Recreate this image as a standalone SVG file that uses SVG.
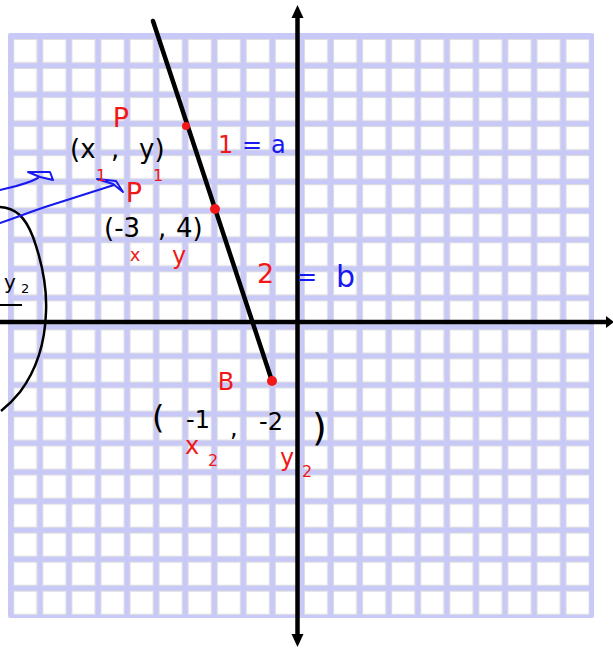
<svg xmlns="http://www.w3.org/2000/svg" width="613" height="648" viewBox="0 0 613 648">
<style>
.t{font-family:"DejaVu Sans","Liberation Sans",sans-serif;}
.k{fill:#000;}
.r{fill:#f01818;}
.b{fill:#1818f0;}
.ax{stroke:#000;stroke-width:4.5;fill:none;}
.blue{stroke:#1818f0;stroke-width:2;fill:none;stroke-linecap:round;stroke-linejoin:round;}
.dot{fill:#f01818;}
</style>
<defs>
<pattern id="cells" patternUnits="userSpaceOnUse" x="13.3" y="39" width="29.07" height="29.04">
<rect x="0.5" y="0.5" width="23" height="23" fill="#fff" stroke="#dedede" stroke-width="1"/>
</pattern>
</defs>
<g id="grid">
<rect x="8" y="33" width="586" height="585" rx="2" fill="#c9c9f7"/>
<rect x="13.3" y="39" width="576" height="576" fill="url(#cells)"/>
</g>
<g id="axes">
<line class="ax" x1="297.5" y1="15" x2="297.5" y2="636"/>
<polygon points="297.5,5 291.5,18 303.5,18" fill="#000"/>
<polygon points="297.5,647 291.5,634 303.5,634" fill="#000"/>
<line class="ax" x1="0" y1="322" x2="607" y2="322"/>
<polygon points="614,322 606,316 606,328" fill="#000"/>
</g>
<g id="connectors">
<line x1="153" y1="21" x2="272" y2="381" stroke="#000" stroke-width="4.5" stroke-linecap="round"/>
<path d="M0,207 C15,208 25,216 33,237 C42,262 47,290 46,312 C45,345 35,372 20,392 C12,402 6,407 1,411" stroke="#000" stroke-width="2.5" fill="none"/>
<path class="blue" d="M0,190 C12,187 25,185 38,178"/>
<path class="blue" d="M28,172 L50,172 L53,180 L40,177 Z"/>
<path class="blue" d="M0,223 C15,218 30,212 45,207 C70,199 95,191 114,185"/>
<path class="blue" d="M97,179 L116,181 L123,192 L113,184 Z"/>
<line x1="0" y1="305" x2="22" y2="305" stroke="#000" stroke-width="2"/>
</g>
<g id="point-p1">
<circle class="dot" cx="186" cy="126" r="4"/>
<text class="t r" x="121" y="127" font-size="27" text-anchor="middle">P</text>
<text class="t k" x="70" y="158" font-size="26">(x</text>
<text class="t k" x="111" y="158" font-size="26">,</text>
<text class="t k" x="139" y="158" font-size="26">y)</text>
<text class="t r" x="101" y="181" font-size="16" text-anchor="middle">1</text>
<text class="t r" x="158" y="181" font-size="16" text-anchor="middle">1</text>
</g>
<g id="point-p">
<circle class="dot" cx="215" cy="209" r="5"/>
<text class="t r" x="134" y="202" font-size="27" text-anchor="middle">P</text>
<text class="t k" x="104" y="237" font-size="26">(-3</text>
<text class="t k" x="158" y="237" font-size="26">,</text>
<text class="t k" x="176" y="237" font-size="26">4)</text>
<text class="t r" x="135" y="261" font-size="18" text-anchor="middle">x</text>
<text class="t r" x="179" y="264" font-size="24" text-anchor="middle">y</text>
</g>
<g id="label-a">
<text class="t r" x="218" y="153" font-size="24">1</text>
<text class="t b" x="242" y="153" font-size="24">=</text>
<text class="t b" x="271" y="153" font-size="24">a</text>
</g>
<g id="label-b">
<text class="t r" x="257" y="283" font-size="27">2</text>
<text class="t b" x="297" y="285" font-size="24">=</text>
<text class="t b" x="336" y="287" font-size="30">b</text>
</g>
<g id="point-b">
<circle class="dot" cx="272" cy="381" r="5"/>
<text class="t r" x="226" y="390" font-size="24" text-anchor="middle">B</text>
<text class="t k" x="152" y="428" font-size="32">(</text>
<text class="t k" x="186" y="428" font-size="24">-1</text>
<text class="t k" x="230" y="436" font-size="24">,</text>
<text class="t k" x="259" y="430" font-size="24">-2</text>
<text class="t k" x="312" y="440" font-size="38">)</text>
<text class="t r" x="185" y="454" font-size="24">x</text>
<text class="t r" x="208" y="466" font-size="16">2</text>
<text class="t r" x="280" y="466" font-size="24">y</text>
<text class="t r" x="302" y="477" font-size="16">2</text>
</g>
<g id="left-label">
<text class="t k" x="4" y="289" font-size="20">y</text>
<text class="t k" x="21" y="293" font-size="13">2</text>
</g>
</svg>
